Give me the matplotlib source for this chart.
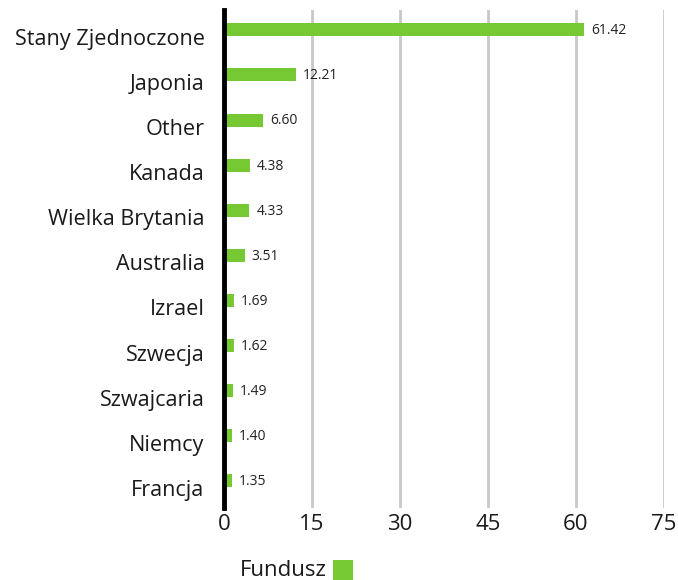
import matplotlib
matplotlib.use("Agg")
import matplotlib.pyplot as plt
from matplotlib.patches import Rectangle
from matplotlib.transforms import ScaledTranslation

categories = ["Stany Zjednoczone", "Japonia", "Other", "Kanada", "Wielka Brytania",
              "Australia", "Izrael", "Szwecja", "Szwajcaria", "Niemcy", "Francja"]
values = [61.42, 12.21, 6.60, 4.38, 4.33, 3.51, 1.69, 1.62, 1.49, 1.40, 1.35]
xticks = [0, 15, 30, 45, 60, 75]
series_name = "Fundusz"
green = "#76c932"

plt.rcParams['font.family'] = ['Open Sans', 'DejaVu Sans']

fig = plt.figure(figsize=(6.78, 5.8), dpi=100)
W, H = 678, 580
x0, x1 = 224, 664
ytop, ybot = 10, 508
ax = fig.add_axes([x0 / W, 1 - ybot / H, (x1 - x0) / W, (ybot - ytop) / H])

y = list(range(len(categories)))
ax.barh(y, values, height=0.29, color=green, zorder=3)
for yi, v in zip(y, values):
    ax.text(v + 1.2, yi + 0.02, f"{v:.2f}", va="center", ha="left", fontsize=10, color="#222222")

ax.set_xlim(0, 75)
ax.set_ylim(10.6, -0.44)
ax.set_yticks(y)
ax.set_yticklabels(categories, fontsize=15.6, color="#1a1a1a")
ax.set_xticks(xticks)
ax.set_xticklabels([str(t) for t in xticks], fontsize=16, color="#1a1a1a")
ax.tick_params(axis='both', length=0)
ax.tick_params(axis='y', pad=14)
ax.tick_params(axis='x', pad=4)
off = ScaledTranslation(0, -0.07, fig.dpi_scale_trans)
for lab in ax.get_yticklabels():
    lab.set_transform(lab.get_transform() + off)
ax.xaxis.grid(True, color="#c8c8c8", linewidth=2, zorder=0)
ax.set_axisbelow(True)
for s in ["top", "right", "bottom"]:
    ax.spines[s].set_visible(False)
ax.spines["left"].set_linewidth(3.5)
ax.spines["left"].set_color("black")
ax.spines["left"].set_zorder(4)
ax.spines["left"].set_clip_on(False)

# legend
fig.text(240 / W, 1 - 571 / H, series_name, fontsize=16, color="#1a1a1a", va="center", ha="left")
fig.patches.append(Rectangle((333 / W, 1 - 580 / H), 20 / W, 20 / H, transform=fig.transFigure,
                             facecolor=green, edgecolor="none"))

fig.savefig("out.png", dpi=100)
